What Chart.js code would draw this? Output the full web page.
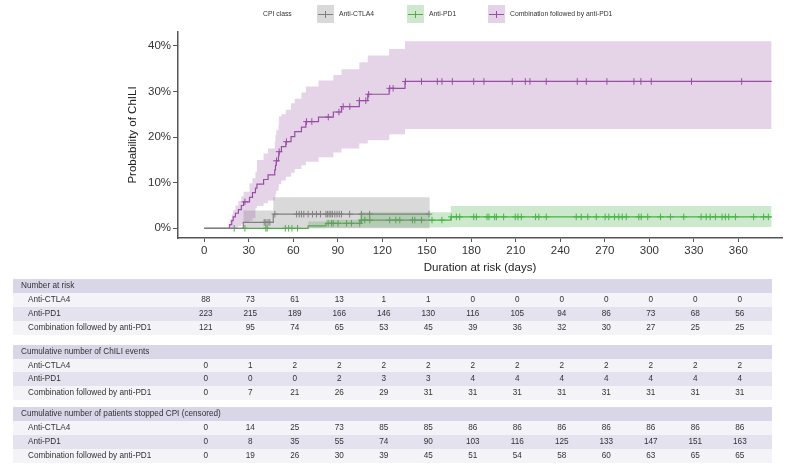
<!DOCTYPE html>
<html><head><meta charset="utf-8">
<script src="https://cdn.jsdelivr.net/npm/chart.js@4.4.1/dist/chart.umd.min.js"></script>
<style>
html,body{margin:0;padding:0;background:#fff;}
#wrap{position:relative;width:787px;height:471px;overflow:hidden;font-family:'Liberation Sans',Arial,sans-serif;color:#333;}
#c{position:absolute;left:0;top:0;}
.abs{position:absolute;white-space:nowrap;}
</style></head><body>
<div id="wrap"><canvas id="c" width="787" height="280"></canvas></div>
<script>
// ---------- data ----------
const xTickValues = [0,30,60,90,120,150,180,210,240,270,300,330,360];
const yTickValues = [0,10,20,30,40];
const groupNames = ['Anti-CTLA4','Anti-PD1','Combination followed by anti-PD1'];

// Anti-CTLA4 cumulative incidence (%)
const ctla4Times = [0, 26.3, 46.5, 151.5];
const ctla4Est   = [0, 1.3, 3.1, 3.1];
const ctla4BandTimes = [26.3, 46.5, 152];
const ctla4Lower = [0, 0, 0];
const ctla4Upper = [3.9, 6.8, 6.8];
const ctla4Censor = [40.4,41.5,43,44.2,47.6,62.2,64,65.5,67.1,70,73,75.6,78.3,82,83,84.2,85.3,86.4,88,89.5,91,92.5,98,105.9,111.5,151.5];

// Anti-PD1
const pd1Times = [0, 70, 82, 105, 166.2, 382.4];
const pd1Est   = [0, 0.55, 1.1, 1.8, 2.5, 2.5];
const pd1BandTimes = [70, 82, 105, 166.2, 382.4];
const pd1Lower = [0, 0.1, 0.2, 0.3, 0.3];
const pd1Upper = [1.5, 1.9, 3.5, 4.9, 4.9];
const pd1Censor = [20.2,27.4,41.5,42.4,54.6,56.9,59.1,62.9,
  83.5,85.8,86.9,90.2,95.9,99.2,104.8,
  106,108.2,111.6,125,129.1,131.8,140.3,141.9,146.4,153.5,160.2,
  166.5,169.9,172.2,181.6,183.4,190.6,191.9,195.7,196.9,201.8,209.6,211.4,213.7,223.3,225.5,230.5,
  250.7,254.1,258.5,264.2,270.2,272.7,276.5,279.4,281.7,284.4,292.9,294.5,298.9,307.5,314.2,323.2,
  334.9,338.3,341,344.5,349,351.2,353.5,358,370.3,377,380.2];

// Combination followed by anti-PD1
const comboTimes = [0,17,18.5,19.5,21,23,25,26.5,30.5,32.5,34.5,35.5,40,43,47.5,48,48.5,50,50.3,52,55,58.5,61,65.5,68.5,77,87,92.5,104.5,110.2,124.6,135.3,382.4];
const comboEst   = [0,0.8,1.7,2.5,3.3,4.1,5.0,5.8,6.8,7.8,8.8,9.7,10.7,11.7,12.8,13.8,14.8,15.8,16.8,17.9,19.0,20.1,21.2,22.2,23.4,24.4,25.5,26.7,28.0,29.4,30.7,32.2,32.2];
const comboBandTimes = [17,18.5,19.5,21,23,25,26.5,30.5,32.5,34.5,35.5,40,43,47.5,48,48.5,50,50.3,52,55,58.5,61,65.5,68.5,77,87,92.5,104.5,110.2,124.6,135.3,382.4];
const comboLower = [0,0,0,0.2,0.5,0.9,1.4,1.6,2.2,4.4,4.9,5.5,6.1,6.8,7.5,8.2,9.0,9.7,10.5,11.3,12.2,13.0,13.8,14.6,15.6,16.6,17.5,18.6,19.3,20.6,21.8,21.8];
const comboUpper = [2.0,3.0,4.0,5.0,6.0,7.0,8.0,9.9,11.0,12.4,15.0,16.4,17.5,19.0,20.5,21.5,22.6,24.5,25.0,26.0,27.4,28.4,29.8,31.1,32.4,33.6,34.9,36.4,37.9,39.3,41.0,41.0];
const comboCensor = [27.4,48.7,50.5,55.4,68.9,72.5,83.6,90.8,93.6,98.1,104.6,108.9,110.8,125,127.3,135.6,146.4,157.1,160.2,167.2,181.6,188.5,207.6,216.4,219.5,230.5,251.4,257.5,271.4,289.6,294.3,301.3,328.4,362.2];

// risk table
const riskCtla4 = [88,73,61,13,1,1,0,0,0,0,0,0,0];
const riskPd1   = [223,215,189,166,146,130,116,105,94,86,73,68,56];
const riskCombo = [121,95,74,65,53,45,39,36,32,30,27,25,25];
const eventsCtla4 = [0,1,2,2,2,2,2,2,2,2,2,2,2];
const eventsPd1   = [0,0,0,2,3,3,4,4,4,4,4,4,4];
const eventsCombo = [0,7,21,26,29,31,31,31,31,31,31,31,31];
const censCtla4 = [0,14,25,73,85,85,86,86,86,86,86,86,86];
const censPd1   = [0,8,35,55,74,90,103,116,125,133,147,151,163];
const censCombo = [0,19,26,30,39,45,51,54,58,60,63,65,65];
const tableTitles = ['Number at risk','Cumulative number of ChILI events','Cumulative number of patients stopped CPI (censored)'];

// ---------- styles ----------
const FONT = "'Liberation Sans', Arial, sans-serif";
const colGrey = '#7f7f7f', colGreen = '#4daf4a', colPurple = '#984ea3';
const fillGrey = 'rgba(128,128,128,0.30)', fillGreen = 'rgba(77,175,74,0.28)', fillPurple = 'rgba(152,78,163,0.25)';

function pts(t, v){ return t.map((x,i)=>({x:x, y:v[i]})); }
function levelAt(times, est, t){ let v = est[0]; for (let i=0;i<times.length;i++){ if (times[i] <= t) v = est[i]; } return v; }
function censorPts(c, times, est){ return c.map(t=>({x:t, y:levelAt(times, est, t)})); }

function band(t, lo, hi, fill){
  return [
    {data:pts(t, lo), borderWidth:0, pointRadius:0, stepped:true, fill:false, borderColor:'transparent'},
    {data:pts(t, hi), borderWidth:0, pointRadius:0, stepped:true, fill:'-1', backgroundColor:fill, borderColor:'transparent'}
  ];
}
function curve(t, v, col){ return {data:pts(t, v), borderColor:col, borderWidth:1.2, pointRadius:0, stepped:true, fill:false}; }
function marks(c, t, v, col){ return {data:censorPts(c, t, v), showLine:false, pointStyle:'cross', pointRadius:3.3, pointBorderColor:col, pointBorderWidth:1, pointBackgroundColor:col, fill:false}; }

const datasets = [
  ...band(comboBandTimes, comboLower, comboUpper, fillPurple),
  ...band(ctla4BandTimes, ctla4Lower, ctla4Upper, fillGrey),
  ...band(pd1BandTimes, pd1Lower, pd1Upper, fillGreen),
  curve(ctla4Times, ctla4Est, colGrey),
  curve(pd1Times, pd1Est, colGreen),
  curve(comboTimes, comboEst, colPurple),
  marks(ctla4Censor, ctla4Times, ctla4Est, colGrey),
  marks(pd1Censor, pd1Times, pd1Est, colGreen),
  marks(comboCensor, comboTimes, comboEst, colPurple)
];

const chart = new Chart(document.getElementById('c'), {
  type:'line',
  data:{datasets},
  options:{
    responsive:false, animation:false, devicePixelRatio:1,
    layout:{padding:{left:0,right:5,top:32,bottom:0}},
    plugins:{legend:{display:false}, tooltip:{enabled:false}},
    scales:{
      x:{type:'linear', min:-17.7, max:389.4,
        afterFit:s=>{s.height=42;},
        afterBuildTicks:s=>{s.ticks = xTickValues.map(v=>({value:v}));},
        grid:{drawOnChartArea:false, drawTicks:true, tickLength:4, color:'#555', lineWidth:1},
        border:{display:true, color:'#555', width:1.5},
        ticks:{font:{family:FONT, size:11.5}, color:'#333', padding:2, maxRotation:0, autoSkip:false},
        title:{display:true, text:'Duration at risk (days)', font:{family:FONT, size:11.5}, color:'#222', padding:{top:0,bottom:5}}
      },
      y:{type:'linear', min:-2.13, max:43.05,
        afterFit:s=>{s.width=178;},
        afterBuildTicks:s=>{s.ticks = yTickValues.map(v=>({value:v}));},
        grid:{drawOnChartArea:false, drawTicks:true, tickLength:5, color:'#555', lineWidth:1},
        border:{display:true, color:'#555', width:1.5},
        ticks:{font:{family:FONT, size:11.5}, color:'#333', padding:2, callback:v=>v+'%'},
        title:{display:true, text:'Probability of ChILI', font:{family:FONT, size:11.5}, color:'#222', padding:{top:126,bottom:0}}
      }
    }
  }
});

// ---------- legend (HTML) ----------
const wrap = document.getElementById('wrap');
function addDiv(css, text){ const d=document.createElement('div'); d.className='abs'; Object.assign(d.style, css); if(text!==undefined) d.textContent=text; wrap.appendChild(d); return d; }
const legFont = '6.8px';
addDiv({left:'263px', top:'9px', fontSize:legFont, lineHeight:'10px', color:'#333'}, 'CPI class');
const legItems = [
  {x:317, bg:'#d9d9d9', col:colGrey, lab:groupNames[0]},
  {x:407, bg:'#cde8cc', col:colGreen, lab:groupNames[1]},
  {x:488, bg:'#e4d3e8', col:colPurple, lab:groupNames[2]}
];
legItems.forEach(it=>{
  const b = addDiv({left:it.x+'px', top:'5px', width:'17px', height:'18px', background:it.bg});
  const h = document.createElement('div'); Object.assign(h.style,{position:'absolute',left:'1px',right:'1px',top:'8.5px',height:'1px',background:it.col}); b.appendChild(h);
  const v = document.createElement('div'); Object.assign(v.style,{position:'absolute',left:'8px',width:'1px',top:'5.5px',height:'7px',background:it.col}); b.appendChild(v);
  addDiv({left:(it.x+22)+'px', top:'9px', fontSize:legFont, lineHeight:'10px', color:'#333'}, it.lab);
});

// ---------- risk table (HTML, columns from the chart's x scale) ----------
const xs = chart.scales.x;
const blocks = [
  {title:tableTitles[0], rows:[riskCtla4, riskPd1, riskCombo], top:286},
  {title:tableTitles[1], rows:[eventsCtla4, eventsPd1, eventsCombo], top:351.6},
  {title:tableTitles[2], rows:[censCtla4, censPd1, censCombo], top:414.4}
];
const pitch = 13.9, rowH = 13.9, tFont = '8.2px';
const rowBg = ['#f4f4f8','#e4e2ee','#f4f4f8'];
blocks.forEach(bl=>{
  const hy = bl.top;
  addDiv({left:'13px', top:(hy-rowH/2)+'px', width:'759px', height:rowH+'px', background:'#d9d6e8'});
  addDiv({left:'21px', top:(hy-7)+'px', fontSize:tFont, lineHeight:'14px', color:'#333'}, bl.title);
  bl.rows.forEach((vals, r)=>{
    const cy = hy + pitch*(r+1);
    addDiv({left:'13px', top:(cy-rowH/2)+'px', width:'759px', height:rowH+'px', background:rowBg[r]});
    addDiv({left:'28px', top:(cy-7)+'px', fontSize:tFont, lineHeight:'14px', color:'#333'}, groupNames[r]);
    vals.forEach((v, k)=>{
      const px = xs.getPixelForValue(xTickValues[k]) + 1.5;
      addDiv({left:(px-20)+'px', top:(cy-7)+'px', width:'40px', textAlign:'center', fontSize:tFont, lineHeight:'14px', color:'#333'}, String(v));
    });
  });
});
</script>
</body></html>
